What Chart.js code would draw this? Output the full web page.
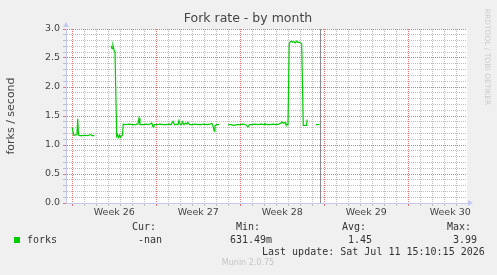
<!DOCTYPE html>
<html lang="en">
<head>
    <meta charset="UTF-8">
    <title>Fork rate - by month</title>
    <script src="https://cdn.jsdelivr.net/npm/chart.js"></script>
    <style>
        html, body {
            margin: 0;
            padding: 0;
            background: #f0f0f0;
        }
        #wrap {
            width: 497px;
            height: 275px;
        }
    </style>
</head>
<body>
<div id="wrap"><canvas id="forkChart" width="497" height="275"></canvas></div>
<script>
// days since Monday of week 26
const forksDays = [
    0.00, 0.06, 0.10, 0.22, 0.39, 0.45, 0.52, 0.64, 0.89, 1.06, 1.22, 1.39, 1.52, 1.64, 1.85,
    2.50,
    3.23, 3.31, 3.39, 3.48, 3.56, 3.70, 3.77, 3.85, 3.93, 4.02, 4.10, 4.18, 4.25, 4.48, 4.73,
    4.98, 5.23, 5.39, 5.47, 5.56, 5.64, 5.89, 6.14, 6.39, 6.62, 6.73, 6.81, 7.06, 7.31, 7.56,
    7.81, 8.06, 8.23, 8.39, 8.52, 8.64, 8.81, 8.89, 8.98, 9.10, 9.18, 9.31, 9.43, 9.56, 9.64,
    9.77, 9.98, 10.23, 10.48, 10.73, 10.98, 11.23, 11.48, 11.64, 11.77, 11.83, 11.89, 12.02,
    12.14, 12.25,
    12.70,
    13.00, 13.23, 13.48, 13.73, 13.98, 14.23, 14.48, 14.64, 14.77, 14.98, 15.23, 15.48, 15.73,
    15.98, 16.06, 16.23, 16.48, 16.73, 16.98, 17.23, 17.39, 17.48, 17.60, 17.73, 17.81, 17.98,
    18.08, 18.18, 18.27, 18.39, 18.48, 18.60, 18.68, 18.81, 18.93, 19.12, 19.25, 19.39, 19.53,
    19.58,
    19.90,
    20.31, 20.48, 20.60
];
const forksValues = [
    1.30, 1.22, 1.17, 1.17, 1.18, 1.45, 1.17, 1.16, 1.16, 1.17, 1.16, 1.17, 1.18, 1.16, 1.16,
    null,
    2.71, 2.66, 2.72, 2.64, 2.60, 1.15, 1.18, 1.13, 1.17, 1.13, 1.16, 1.17, 1.36, 1.35, 1.36,
    1.35, 1.35, 1.36, 1.36, 1.46, 1.35, 1.35, 1.36, 1.35, 1.38, 1.31, 1.35, 1.35, 1.36, 1.35,
    1.35, 1.36, 1.35, 1.41, 1.35, 1.36, 1.35, 1.42, 1.36, 1.35, 1.40, 1.35, 1.38, 1.36, 1.39,
    1.35, 1.35, 1.36, 1.35, 1.35, 1.36, 1.35, 1.36, 1.37, 1.30, 1.24, 1.33, 1.35,
    1.35, 1.35,
    null,
    1.35, 1.35, 1.34, 1.35, 1.35, 1.36, 1.35, 1.31, 1.35, 1.35, 1.36, 1.35, 1.36,
    1.35, 1.37, 1.35, 1.35, 1.36, 1.35, 1.36, 1.38, 1.40, 1.37, 1.39, 1.35, 1.35,
    2.75, 2.78, 2.79, 2.77, 2.78, 2.76, 2.79, 2.77, 2.77, 2.75, 1.34, 1.34, 1.34,
    1.44,
    null,
    1.35, 1.35, 1.36
];

const weekLabels = ['Week 26', 'Week 27', 'Week 28', 'Week 29', 'Week 30'];
const statLabels = ['Cur:', 'Min:', 'Avg:', 'Max:'];
const statValues = ['-nan', '631.49m', '1.45', '3.99'];
const seriesName = 'forks';
const lastUpdate = 'Last update: Sat Jul 11 15:10:15 2026';
const nowDay = 20.64;

const GREEN = '#00cc00';
const RED_GRID = '#e27474';
const GRAY_GRID = '#bebebe';
const AXIS = '#c4c8f0';

const isMajorY = v => Math.abs(v * 2 - Math.round(v * 2)) < 1e-6;

const munin = {
    id: 'munin',
    beforeDraw(chart) {
        const a = chart.chartArea;
        const c = chart.ctx;
        c.save();
        c.fillStyle = '#ffffff';
        c.fillRect(a.left, a.top, a.right - a.left, a.bottom - a.top);
        c.restore();
    },
    afterDatasetsDraw(chart) {
        const a = chart.chartArea;
        const c = chart.ctx;
        const x = Math.round(chart.scales.x.getPixelForValue(nowDay)) + 0.5;
        c.save();
        c.strokeStyle = '#8a8a8a';
        c.lineWidth = 1;
        c.beginPath();
        c.moveTo(x, a.top);
        c.lineTo(x, a.bottom);
        c.stroke();
        c.restore();
    },
    afterDraw(chart) {
        const a = chart.chartArea;
        const c = chart.ctx;
        c.save();
        // axis arrows
        c.fillStyle = AXIS;
        c.beginPath();
        c.moveTo(a.left - 3, a.top - 2);
        c.lineTo(a.left + 3, a.top - 2);
        c.lineTo(a.left, a.top - 7);
        c.fill();
        c.beginPath();
        c.moveTo(a.right + 1, a.bottom - 3);
        c.lineTo(a.right + 1, a.bottom + 3);
        c.lineTo(a.right + 6, a.bottom);
        c.fill();

        // title
        c.fillStyle = '#444';
        c.font = '12.5px "DejaVu Sans"';
        c.textAlign = 'center';
        c.textBaseline = 'middle';
        c.fillText('Fork rate - by month', 248, 19);

        // legend & stats
        c.font = '10px "DejaVu Sans Mono"';
        c.textAlign = 'left';
        c.fillStyle = '#333';
        const hx = [132, 236, 342, 447];
        const vx = [138, 230, 348, 453];
        statLabels.forEach((t, i) => c.fillText(t, hx[i], 227));
        statValues.forEach((t, i) => c.fillText(t, vx[i], 240));
        c.fillText(seriesName, 27, 240);
        c.fillText(lastUpdate, 262, 252);
        c.fillStyle = GREEN;
        c.fillRect(14, 237, 6, 6);

        c.fillStyle = '#c4c4c4';
        c.font = '8px "DejaVu Sans"';
        c.textAlign = 'center';
        c.fillText('Munin 2.0.75', 248, 263);

        c.translate(487, 57);
        c.rotate(Math.PI / 2);
        c.fillStyle = '#cccccc';
        c.font = '7.5px "DejaVu Sans"';
        c.fillText('RRDTOOL / TOBI OETIKER', 0, 0);
        c.restore();
    }
};

new Chart(document.getElementById('forkChart'), {
    type: 'line',
    data: {
        datasets: [{
            label: seriesName,
            data: forksDays.map((d, i) => ({ x: d, y: forksValues[i] })),
            borderColor: GREEN,
            borderWidth: 1.2,
            pointRadius: 0,
            tension: 0,
            spanGaps: false
        }]
    },
    options: {
        responsive: false,
        animation: false,
        layout: { padding: { top: 29, right: 30, left: 0, bottom: 0 } },
        plugins: {
            legend: { display: false },
            tooltip: { enabled: false }
        },
        scales: {
            x: {
                type: 'linear',
                min: -0.525,
                max: 32.9,
                afterBuildTicks(scale) {
                    const t = [];
                    for (let v = 0; v <= 32; v += 0.5) t.push({ value: v });
                    scale.ticks = t;
                },
                afterFit(scale) { scale.height = 72; },
                ticks: {
                    autoSkip: false,
                    maxRotation: 0,
                    padding: 1,
                    color: '#444',
                    font: { family: 'DejaVu Sans', size: 9.5 },
                    callback(v) {
                        const k = (v - 3.5) / 7;
                        return Number.isInteger(k) && k >= 0 && k < weekLabels.length ? weekLabels[k] : '';
                    }
                },
                grid: {
                    tickLength: 3,
                    lineWidth: 1,
                    color(ctx) {
                        const v = ctx.tick ? ctx.tick.value : 0;
                        if (!Number.isInteger(v)) return 'rgba(0,0,0,0)';
                        return v % 7 === 0 ? RED_GRID : GRAY_GRID;
                    }
                },
                border: { color: AXIS, dash: [1, 1] }
            },
            y: {
                min: 0,
                max: 3,
                afterBuildTicks(scale) {
                    const t = [];
                    for (let i = 0; i <= 30; i++) t.push({ value: i / 10 });
                    scale.ticks = t;
                },
                afterFit(scale) { scale.width = 66; },
                ticks: {
                    autoSkip: false,
                    padding: 3,
                    color: '#444',
                    font: { family: 'DejaVu Sans', size: 9.5 },
                    callback(v) { return isMajorY(v) ? v.toFixed(1) : ''; }
                },
                grid: {
                    tickLength: 3,
                    lineWidth: 1,
                    color(ctx) {
                        const v = ctx.tick ? ctx.tick.value : 0;
                        return isMajorY(v) ? RED_GRID : GRAY_GRID;
                    }
                },
                border: { color: AXIS, dash: [1, 1] },
                title: {
                    display: true,
                    text: 'forks / second',
                    color: '#444',
                    padding: { top: 5, bottom: 0 },
                    font: { family: 'DejaVu Sans', size: 11 }
                }
            }
        }
    },
    plugins: [munin]
});
</script>
</body>
</html>
